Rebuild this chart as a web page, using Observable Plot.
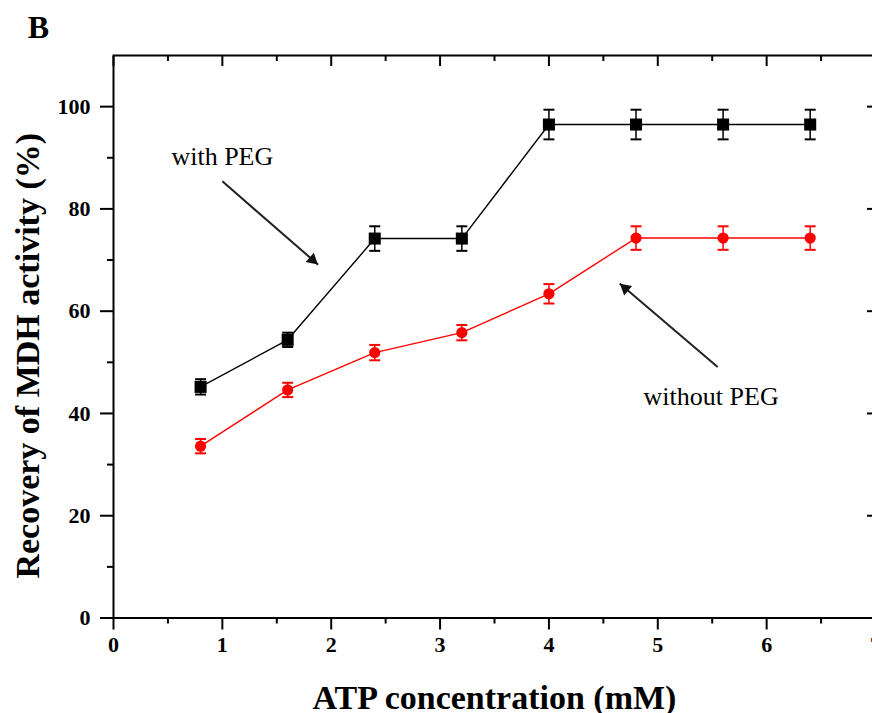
<!DOCTYPE html>
<html>
<head>
<meta charset="utf-8">
<script src="https://cdn.jsdelivr.net/npm/d3@7"></script>
<script src="https://cdn.jsdelivr.net/npm/@observablehq/plot@0.6"></script>
<style>
  html, body { margin: 0; padding: 0; background: #fff; overflow: hidden; }
  #chart svg { display: block; max-width: none !important; }
</style>
</head>
<body>
<div id="chart"></div>
<script>
// ---- data ----
const atp = [0.8, 1.6, 2.4, 3.2, 4.0, 4.8, 5.6, 6.4];
const withPEG = [45.2, 54.4, 74.2, 74.2, 96.5, 96.5, 96.5, 96.5];
const withPEGErr = [1.5, 1.4, 2.4, 2.4, 2.9, 2.9, 2.9, 2.9];
const withoutPEG = [33.6, 44.6, 51.9, 55.8, 63.4, 74.3, 74.3, 74.3];
const withoutPEGErr = [1.4, 1.4, 1.5, 1.5, 1.9, 2.3, 2.3, 2.3];

const xMajor = [0, 1, 2, 3, 4, 5, 6, 7];
const xMinor = [0.5, 1.5, 2.5, 3.5, 4.5, 5.5, 6.5];
const yMajor = [0, 20, 40, 60, 80, 100];
const yMinor = [10, 30, 50, 70, 90];

const xTitle = "ATP concentration (mM)";
const yTitle = "Recovery of MDH activity (%)";
const panelLabel = "B";

const labels = [
  {text: "with PEG", x: 1.0, y: 90.3},
  {text: "without PEG", x: 5.49, y: 43.2}
];
const arrows = [
  {x1: 1.0, y1: 85.4, x2: 1.88, y2: 69.1, angle: 131, dx: -5.7, dy: -4.9},
  {x1: 5.55, y1: 49.1, x2: 4.65, y2: 65.4, angle: -50, dx: 5.7, dy: 4.8}
];

// ---- build tables ----
const black = atp.map((x, i) => ({x, y: withPEG[i], lo: withPEG[i] - withPEGErr[i], hi: withPEG[i] + withPEGErr[i]}));
const red = atp.map((x, i) => ({x, y: withoutPEG[i], lo: withoutPEG[i] - withoutPEGErr[i], hi: withoutPEG[i] + withoutPEGErr[i]}));

const capSymbol = {
  draw(ctx, size) {
    const w = Math.sqrt(size);
    ctx.moveTo(-w / 2, 0);
    ctx.lineTo(w / 2, 0);
  }
};

const blank = () => "";
const serif = "'Liberation Serif', 'Times New Roman', serif";

function series(data, color, symbol, r) {
  return [
    Plot.line(data, {x: "x", y: "y", stroke: color, strokeWidth: 1.4}),
    Plot.ruleX(data, {x: "x", y1: "lo", y2: "hi", stroke: color, strokeWidth: 1.5}),
    Plot.dot(data, {x: "x", y: "lo", symbol: capSymbol, r: 6.2, stroke: color, fill: "none", strokeWidth: 2}),
    Plot.dot(data, {x: "x", y: "hi", symbol: capSymbol, r: 6.2, stroke: color, fill: "none", strokeWidth: 2}),
    Plot.dot(data, {x: "x", y: "y", symbol, r, fill: color, stroke: "none"})
  ];
}

const chart = Plot.plot({
  width: 880,
  height: 713,
  marginLeft: 113,
  marginRight: 5,
  marginTop: 55,
  marginBottom: 95.5,
  style: {fontFamily: serif, fontSize: "22px", fontWeight: "bold", color: "#000", background: "#fff", maxWidth: "none"},
  x: {domain: [0, 7]},
  y: {domain: [0, 110]},
  marks: [
    Plot.frame({strokeWidth: 2}),
    // bottom axis
    Plot.axisX(xMajor, {anchor: "bottom", tickSize: 12, tickPadding: 6, strokeWidth: 2, label: null, tickFormat: d => d}),
    Plot.axisX(xMinor, {anchor: "bottom", tickSize: 6, strokeWidth: 2, label: null, tickFormat: blank}),
    // top axis (inward)
    Plot.axisX(xMajor, {anchor: "top", tickSize: -10, strokeWidth: 2, label: null, tickFormat: blank}),
    Plot.axisX(xMinor, {anchor: "top", tickSize: -5, strokeWidth: 2, label: null, tickFormat: blank}),
    // left axis
    Plot.axisY(yMajor, {anchor: "left", tickSize: 13, tickPadding: 10, strokeWidth: 2, label: null, tickFormat: d => d}),
    Plot.axisY(yMinor, {anchor: "left", tickSize: 6, strokeWidth: 2, label: null, tickFormat: blank}),
    // right axis (inward)
    Plot.axisY(yMajor, {anchor: "right", tickSize: -9, strokeWidth: 2, label: null, tickFormat: blank}),
    Plot.axisY(yMinor, {anchor: "right", tickSize: -4, strokeWidth: 2, label: null, tickFormat: blank}),
    // titles
    Plot.text([xTitle], {text: d => d, frameAnchor: "bottom", lineAnchor: "middle", textAnchor: "middle", dy: 80, fontSize: 34, fontWeight: "bold", letterSpacing: "1.2px"}),
    Plot.text([yTitle], {text: d => d, frameAnchor: "left", lineAnchor: "middle", textAnchor: "middle", dx: -85, dy: 19, rotate: -90, fontSize: 34, fontWeight: "bold", letterSpacing: "1.2px"}),
    Plot.text([panelLabel], {text: d => d, frameAnchor: "top-left", lineAnchor: "middle", textAnchor: "middle", dx: -75, dy: -28, fontSize: 32, fontWeight: "bold"}),
    // series
    ...series(black, "#000", "square", 6.8),
    ...series(red, "#ff0000", "circle", 5.6),
    // annotations
    Plot.text(labels, {x: "x", y: "y", text: "text", fontSize: 26, fontWeight: "normal", letterSpacing: "3px", fill: "#000"}),
    Plot.link(arrows, {x1: "x1", y1: "y1", x2: "x2", y2: "y2", stroke: "#222", strokeWidth: 2}),
    Plot.dot(arrows.slice(0, 1), {x: "x2", y: "y2", symbol: "triangle", r: 4.6, rotate: "angle", dx: arrows[0].dx, dy: arrows[0].dy, fill: "#111", stroke: "none"}),
    Plot.dot(arrows.slice(1, 2), {x: "x2", y: "y2", symbol: "triangle", r: 4.6, rotate: "angle", dx: arrows[1].dx, dy: arrows[1].dy, fill: "#111", stroke: "none"})
  ]
});

document.getElementById("chart").appendChild(chart);
</script>
</body>
</html>
